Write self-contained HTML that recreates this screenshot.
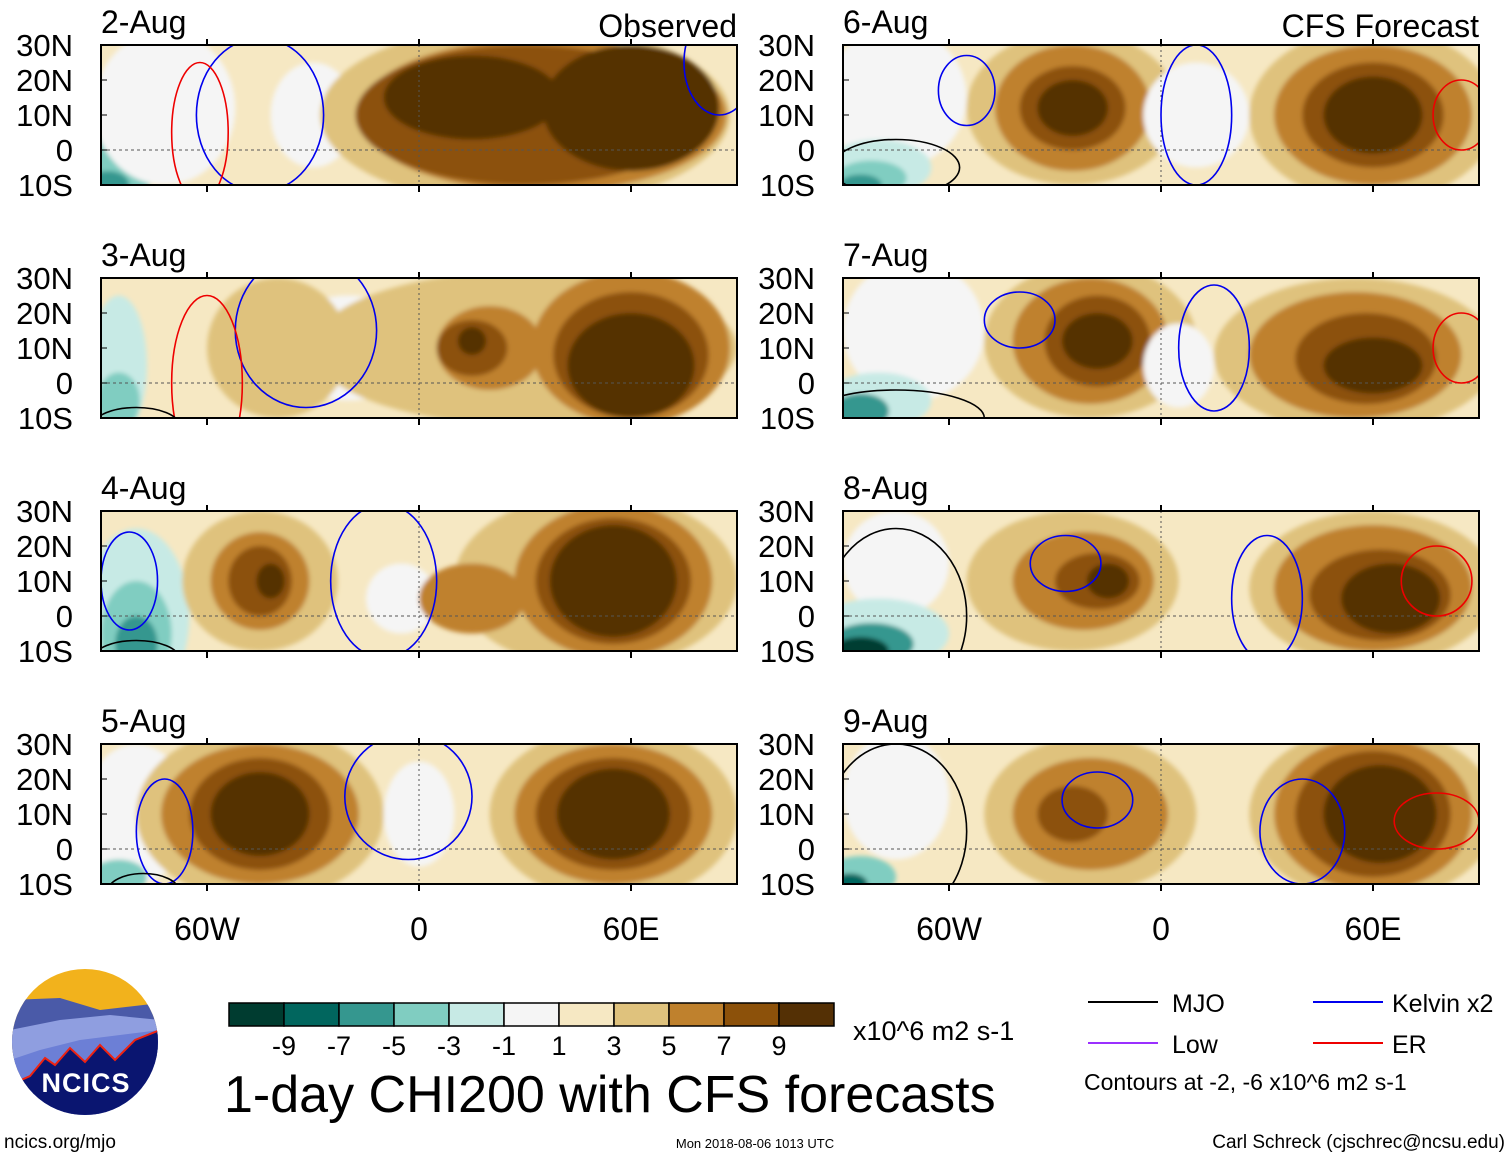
<!DOCTYPE html>
<html><head><meta charset="utf-8"><style>
body{margin:0;background:#fff;width:1510px;height:1158px;overflow:hidden;font-family:"Liberation Sans",sans-serif}
svg text{font-family:"Liberation Sans",sans-serif}
</style></head><body>
<svg id="s" width="1510" height="1158" viewBox="0 0 1510 1158">
<defs><filter id="bl"><feGaussianBlur stdDeviation="2.5"/></filter></defs>
<g id="panels"></g>
<g id="cb"></g>
<g>
<clipPath id="lc"><circle cx="85" cy="1042" r="73"/></clipPath>
<g clip-path="url(#lc)">
<rect x="10" y="968" width="150" height="150" fill="#f2b21c"/>
<path d="M10 1000 L60 998 L100 1010 L160 1003 L160 1118 L10 1118Z" fill="#4a5aa8"/>
<path d="M10 1030 L60 1020 L110 1015 L160 1020 L160 1118 L10 1118Z" fill="#8f9ee0"/>
<path d="M10 1060 L40 1050 L80 1040 L120 1035 L160 1030 L160 1118 L10 1118Z" fill="#6c7fd6"/>
<path d="M10 1085 L30 1076 L45 1058 L55 1065 L70 1048 L85 1062 L100 1045 L115 1060 L125 1050 L135 1040 L160 1030 L160 1118 L10 1118Z" fill="#0a1570" stroke="#e21" stroke-width="2"/>
</g>
<text x="86" y="1092" text-anchor="middle" font-size="27" font-weight="bold" fill="#fff" letter-spacing="1">NCICS</text>
</g>
<text x="4" y="1148" font-size="19">ncics.org/mjo</text>
<text x="224" y="1112" font-size="52">1-day CHI200 with CFS forecasts</text>
<text x="853" y="1040" font-size="27">x10^6 m2 s-1</text>
<text x="755" y="1148" font-size="13" text-anchor="middle">Mon 2018-08-06 1013 UTC</text>
<text x="1505" y="1148" font-size="19" text-anchor="end">Carl Schreck (cjschrec@ncsu.edu)</text>
<g font-size="25">
<line x1="1088" y1="1002" x2="1158" y2="1002" stroke="#000" stroke-width="2"/><text x="1172" y="1012">MJO</text>
<line x1="1313" y1="1002" x2="1383" y2="1002" stroke="#0000ee" stroke-width="2"/><text x="1392" y="1012">Kelvin x2</text>
<line x1="1088" y1="1043" x2="1158" y2="1043" stroke="#9b30ff" stroke-width="2"/><text x="1172" y="1053">Low</text>
<line x1="1313" y1="1043" x2="1383" y2="1043" stroke="#ee0000" stroke-width="2"/><text x="1392" y="1053">ER</text>
<text x="1084" y="1090" font-size="23">Contours at -2, -6 x10^6 m2 s-1</text>
</g>
</svg>
<script>
const levelColors=["#003c30","#01665e","#35978f","#80cdc1","#c7eae5","#f5f5f5","#f6e8c3","#dfc27d","#bf812d","#8c510a","#543005"];
const cbLabels=["-9","-7","-5","-3","-1","1","3","5","7","9"];
const panelDates=["2-Aug","3-Aug","4-Aug","5-Aug","6-Aug","7-Aug","8-Aug","9-Aug"];
const latTicks=[30,20,10,0,-10];
const lonTicks=[-60,0,60];
const blobs0=[[-85,-5,10,10,3],[-88,-10,6,4,2],[-72,12,20,22,5],[-30,10,12,15,5],[30,10,58,26,7],[35,10,52,22,8],[30,10,48,20,9],[15,15,25,12,10],[60,12,25,18,10]];
const blobs1=[[-85,5,8,20,4],[-85,-5,6,8,3],[-20,10,20,15,5],[-40,10,20,20,7],[30,10,60,22,7],[60,10,28,22,8],[20,10,15,12,8],[60,8,22,18,9],[15,10,10,8,9],[60,5,18,15,10],[15,12,4,4,10]];
const blobs2=[[-80,0,15,25,4],[-80,-5,10,15,3],[-80,-8,6,8,2],[-5,5,10,10,5],[-45,10,22,20,7],[-45,10,14,14,8],[-45,10,9,10,9],[-42,10,4,5,10],[50,10,40,25,7],[55,10,28,22,8],[15,5,15,10,8],[55,10,22,18,9],[55,10,18,16,10]];
const blobs3=[[-80,10,15,20,5],[-85,-8,8,5,3],[-45,10,35,25,7],[-45,10,28,20,8],[-45,10,20,16,9],[-45,10,14,12,10],[0,10,10,15,5],[55,10,35,25,7],[55,10,28,20,8],[55,10,22,16,9],[55,10,16,13,10]];
const blobs4=[[-75,15,20,20,5],[-80,-5,15,8,4],[-82,-8,10,5,3],[-85,-10,6,3,2],[-25,12,30,22,7],[-25,12,22,18,8],[-25,12,15,12,9],[-25,12,10,8,10],[10,10,15,15,5],[60,10,35,25,7],[60,10,28,20,8],[60,10,20,15,9],[60,10,14,11,10]];
const blobs5=[[-70,15,20,20,5],[-80,-5,15,8,4],[-85,-8,8,5,2],[-20,12,30,22,7],[-20,12,22,18,8],[-18,12,15,13,9],[-18,12,10,8,10],[5,5,10,12,5],[55,8,40,22,7],[55,8,30,18,8],[58,7,20,13,9],[60,5,14,8,10]];
const blobs6=[[-75,15,15,15,5],[-80,-5,20,10,4],[-82,-8,12,6,2],[-85,-10,8,4,0],[-25,10,30,20,7],[-22,10,20,14,8],[-18,10,12,8,9],[-15,10,6,5,10],[60,8,35,22,7],[60,8,28,18,8],[62,6,20,13,9],[65,5,14,10,10]];
const blobs7=[[-75,15,15,18,5],[-85,-8,10,6,3],[-88,-10,5,3,1],[-20,10,30,22,7],[-20,10,22,16,8],[-25,10,10,8,9],[60,10,35,25,7],[60,10,28,22,8],[60,10,22,18,9],[62,10,16,14,10]];
const allBlobs=[blobs0,blobs1,blobs2,blobs3,blobs4,blobs5,blobs6,blobs7];
const contours0=[[-45,10,18,22,"b"],[-62,5,8,20,"r"],[85,25,10,15,"b"]];
const contours1=[[-32,15,20,22,"b"],[-60,0,10,25,"r"],[-80,-12,12,5,"k"]];
const contours2=[[-82,10,8,14,"b"],[-10,10,15,22,"b"],[-80,-12,12,5,"k"]];
const contours3=[[-72,5,8,15,"b"],[-3,15,18,18,"b"],[-78,-12,10,5,"k"]];
const contours4=[[-55,17,8,10,"b"],[10,10,10,20,"b"],[-75,-5,18,8,"k"],[85,10,8,10,"r"]];
const contours5=[[-40,18,10,8,"b"],[15,10,10,18,"b"],[-75,-10,25,8,"k"],[85,10,8,10,"r"]];
const contours6=[[-27,15,10,8,"b"],[30,5,10,18,"b"],[-75,0,20,25,"k"],[78,10,10,10,"r"]];
const contours7=[[-18,14,10,8,"b"],[40,5,12,15,"b"],[-75,5,20,25,"k"],[78,8,12,8,"r"]];
const allContours=[contours0,contours1,contours2,contours3,contours4,contours5,contours6,contours7];
const cmap={b:"#0000ee",r:"#ee0000",k:"#000"};
const NS="http://www.w3.org/2000/svg";
const PW=636,PH=140;
const pxLeft=[101,843],pyTop=[45,278,511,744];
function el(t,a,p){const e=document.createElementNS(NS,t);for(const k in a)e.setAttribute(k,a[k]);p.appendChild(e);return e;}
const G=document.getElementById('panels');
for(let i=0;i<8;i++){
  const col=i<4?0:1,row=i%4;
  const X0=pxLeft[col],Y0=pyTop[row];
  const xS=lon=>X0+(lon+90)/180*PW;
  const yS=lat=>Y0+(30-lat)/40*PH;
  const g=el('g',{},G);
  
  
  const cp=el('clipPath',{id:'cp'+i},g);
  el('rect',{x:X0,y:Y0,width:PW,height:PH},cp);
  const inner=el('g',{'clip-path':'url(#cp'+i+')'},g);
  el('rect',{x:X0,y:Y0,width:PW,height:PH,fill:levelColors[6]},inner);
  const fg=el('g',{filter:'url(#bl)'},inner);
  allBlobs[i].forEach(b=>{
    const e=el('ellipse',{cx:xS(b[0]),cy:yS(b[1]),rx:b[2]/180*PW,ry:b[3]/40*PH,fill:levelColors[b[4]]},fg);
    
    
  });
  el('line',{x1:X0,y1:yS(0),x2:X0+PW,y2:yS(0),stroke:'#555','stroke-dasharray':'3,3','stroke-width':1},inner);
  el('line',{x1:xS(0),y1:Y0,x2:xS(0),y2:Y0+PH,stroke:'#555','stroke-dasharray':'2,3','stroke-width':1},inner);
  allContours[i].forEach(c=>{
    const e=el('ellipse',{cx:xS(c[0]),cy:yS(c[1]),rx:c[2]/180*PW,ry:c[3]/40*PH,fill:'none',stroke:cmap[c[4]],'stroke-width':1.6},inner);
    
    
  });
  el('rect',{x:X0,y:Y0,width:PW,height:PH,fill:'none',stroke:'#000','stroke-width':2},g);
  const t=el('text',{x:X0,y:Y0-12,'font-size':32},g);t.textContent=panelDates[i];
  
  
  latTicks.forEach(l=>{
    const tt=el('text',{x:X0-28,y:yS(l)+11,'font-size':31,'text-anchor':'end'},g);
    tt.textContent=l===0?'0':(l>0?l+'N':(-l)+'S');
    
    
    el('line',{x1:X0,y1:yS(l),x2:X0+6,y2:yS(l),stroke:'#000'},g);
  });
  lonTicks.forEach(l=>{
    el('line',{x1:xS(l),y1:Y0+PH,x2:xS(l),y2:Y0+PH+7,stroke:'#000','stroke-width':2},g);
    el('line',{x1:xS(l),y1:Y0,x2:xS(l),y2:Y0-6,stroke:'#000','stroke-width':2},g);
    if(row===3){
      const tt=el('text',{x:xS(l),y:940,'font-size':32,'text-anchor':'middle'},g);
      tt.textContent=l===0?'0':(l<0?(-l)+'W':l+'E');
      
      
    }
  });
}
const t1=el('text',{x:737,y:37,'font-size':32,'text-anchor':'end'},G);t1.textContent='Observed';


const t2=el('text',{x:1479,y:37,'font-size':32,'text-anchor':'end'},G);t2.textContent='CFS Forecast';


const CB=document.getElementById('cb');
const cbX=229,cbW=55,cbY=1003,cbH=23;
levelColors.forEach((c,k)=>{
  const r=el('rect',{x:cbX+k*cbW,y:cbY,width:cbW,height:cbH,fill:c,stroke:'#000','stroke-width':1.5},CB);
  
  
});
cbLabels.forEach((s,k)=>{
  const tt=el('text',{x:cbX+(k+1)*cbW,y:1055,'font-size':27,'text-anchor':'middle'},CB);tt.textContent=s;
  
  
});
</script>
</body></html>
